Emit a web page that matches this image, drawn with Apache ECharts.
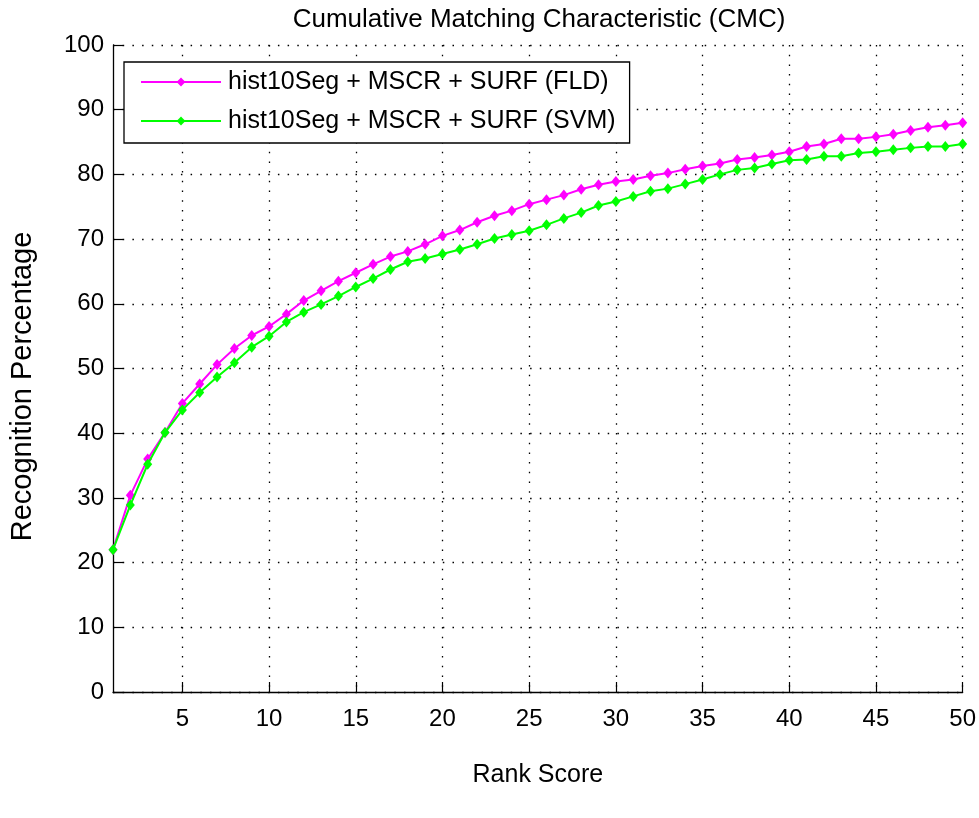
<!DOCTYPE html>
<html>
<head>
<meta charset="utf-8">
<title>CMC</title>
<script src="https://cdn.jsdelivr.net/npm/echarts@6/dist/echarts.min.js"></script>
<style>
  html, body { margin: 0; padding: 0; background: #fff; }
  #chart { width: 979px; height: 818px; }
</style>
</head>
<body>
<div id="chart"></div>
<script>
// Rangos (eje x)
const ranks = [1, 2, 3, 4, 5, 6, 7, 8, 9, 10,
  11, 12, 13, 14, 15, 16, 17, 18, 19, 20,
  21, 22, 23, 24, 25, 26, 27, 28, 29, 30,
  31, 32, 33, 34, 35, 36, 37, 38, 39, 40,
  41, 42, 43, 44, 45, 46, 47, 48, 49, 50];

// Porcentaje de reconocimiento por serie
const fldValues = [22.0, 30.4, 36.0, 40.1, 44.6, 47.6, 50.6, 53.1, 55.1, 56.5,
  58.4, 60.5, 62.0, 63.5, 64.8, 66.1, 67.3, 68.1, 69.2, 70.5,
  71.4, 72.6, 73.6, 74.4, 75.4, 76.1, 76.8, 77.7, 78.4, 78.9,
  79.2, 79.8, 80.2, 80.8, 81.3, 81.7, 82.3, 82.6, 83.0, 83.5,
  84.3, 84.7, 85.5, 85.5, 85.8, 86.2, 86.8, 87.3, 87.6, 88.0];

const svmValues = [22.0, 28.9, 35.2, 40.1, 43.6, 46.3, 48.7, 50.9, 53.3, 55.0,
  57.2, 58.7, 59.9, 61.2, 62.6, 63.9, 65.3, 66.5, 67.0, 67.7,
  68.4, 69.2, 70.1, 70.7, 71.3, 72.2, 73.2, 74.1, 75.2, 75.8,
  76.6, 77.4, 77.8, 78.5, 79.2, 80.0, 80.7, 81.0, 81.6, 82.2,
  82.3, 82.8, 82.8, 83.3, 83.5, 83.8, 84.1, 84.3, 84.3, 84.7];

const seriesNames = ['hist10Seg + MSCR + SURF (FLD)', 'hist10Seg + MSCR + SURF (SVM)'];
const xTickLabels = ['5', '10', '15', '20', '25', '30', '35', '40', '45', '50'];

const FONT = "'Liberation Sans', Arial, sans-serif";

// solo se marcan los rangos que aparecen como etiqueta
const onTick = (index) => xTickLabels.indexOf(String(ranks[index])) !== -1;

const chart = echarts.init(document.getElementById('chart'), null, { renderer: 'canvas' });

const dotted = { color: '#000', width: 1.3, type: [1.5, 8.2] };

const option = {
  backgroundColor: '#fff',
  animation: false,
  title: {
    text: 'Cumulative Matching Characteristic (CMC)',
    left: 534,
    top: 2,
    textAlign: 'center',
    textStyle: { fontFamily: FONT, fontSize: 26, fontWeight: 'normal', color: '#000' }
  },
  legend: {
    orient: 'vertical',
    left: 124,
    top: 62,
    data: seriesNames,
    backgroundColor: '#fff',
    borderColor: '#000',
    borderWidth: 1.3,
    borderRadius: 0,
    padding: [5, 14, 7, 16],
    itemWidth: 80,
    itemHeight: 11,
    itemGap: 9,
    textStyle: { fontFamily: FONT, fontSize: 25, color: '#000', lineHeight: 30, padding: [0, 0, 0, 2] }
  },
  grid: { left: 111, right: 16, top: 45, bottom: 126 },
  xAxis: {
    type: 'category',
    data: ranks,
    boundaryGap: false,
    name: 'Rank Score',
    nameLocation: 'middle',
    nameGap: 71,
    nameTextStyle: { fontFamily: FONT, fontSize: 25, color: '#000' },
    axisLine: { lineStyle: { color: '#000', width: 1.3 } },
    axisTick: { inside: true, length: 10, interval: onTick, lineStyle: { color: '#000', width: 1.2 } },
    axisLabel: { interval: onTick, margin: 15, fontFamily: FONT, fontSize: 24, color: '#000' },
    splitLine: { show: true, interval: onTick, lineStyle: dotted }
  },
  yAxis: {
    type: 'value',
    min: 0,
    max: 100,
    interval: 10,
    name: 'Recognition Percentage',
    nameLocation: 'middle',
    nameGap: 76,
    nameTextStyle: { fontFamily: FONT, fontSize: 29, color: '#000', padding: [0, 36, 0, 0] },
    axisLine: { show: true, lineStyle: { color: '#000', width: 1.3 } },
    axisTick: { show: true, inside: true, length: 10, lineStyle: { color: '#000', width: 1.2 } },
    axisLabel: { margin: 9, fontFamily: FONT, fontSize: 24, color: '#000' },
    splitLine: { show: true, lineStyle: dotted }
  },
  series: [
    {
      name: seriesNames[0],
      type: 'line',
      data: fldValues,
      symbol: 'diamond',
      symbolSize: [9, 11],
      showAllSymbol: true,
      color: '#ff00ff',
      lineStyle: { width: 2 },
      z: 3
    },
    {
      name: seriesNames[1],
      type: 'line',
      data: svmValues,
      symbol: 'diamond',
      symbolSize: [9, 11],
      showAllSymbol: true,
      color: '#00ff00',
      lineStyle: { width: 2 },
      z: 4
    }
  ]
};

chart.setOption(option);
</script>
</body>
</html>
